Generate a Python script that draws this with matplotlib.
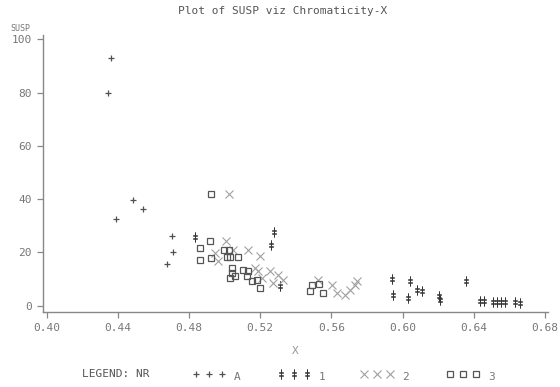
import numpy as np
import matplotlib
matplotlib.use("Agg")
import matplotlib.pyplot as plt
from matplotlib.lines import Line2D

# SUSP viz chromaticity-X
xA = [0.4363, 0.4347, 0.4484, 0.4544, 0.4391, 0.4703, 0.4713, 0.4675]
yA = [93.1, 79.7, 39.7, 36.3, 32.5, 26.2, 20.2, 15.6]

x1 = [0.4834, 0.5280, 0.5262, 0.5312, 0.5940, 0.5949, 0.6043, 0.6033, 0.6080,
      0.6108, 0.6202, 0.6211, 0.6357, 0.6437, 0.6455, 0.6510, 0.6532, 0.6555,
      0.6577, 0.6632, 0.6660]
y1 = [25.6, 27.6, 22.8, 7.2, 10.0, 4.1, 9.1, 2.9, 6.0,
      5.4, 3.7, 2.2, 9.4, 1.6, 1.8, 1.2, 1.2, 1.2,
      1.2, 1.2, 1.1]

x2 = [0.5027, 0.5007, 0.4947, 0.4962, 0.5050, 0.5134, 0.5200, 0.5171, 0.5190,
      0.5209, 0.5256, 0.5300, 0.5329, 0.5273, 0.5527, 0.5602, 0.5630, 0.5677,
      0.5705, 0.5733, 0.5743]
y2 = [41.8, 24.3, 19.8, 16.6, 21.0, 21.0, 18.5, 14.1, 12.9,
      10.4, 12.9, 11.6, 9.7, 8.6, 9.7, 7.9, 4.8, 4.1,
      6.0, 7.9, 9.1]

x3 = [0.4923, 0.4919, 0.4862, 0.4862, 0.4924, 0.4999, 0.5026, 0.5013, 0.5031,
      0.5074, 0.5040, 0.5040, 0.5031, 0.5060, 0.5106, 0.5134, 0.5125, 0.5153,
      0.5181, 0.5200, 0.5490, 0.5480, 0.5531, 0.5555]
y3 = [41.8, 24.1, 21.6, 17.0, 17.9, 21.0, 21.0, 18.1, 18.1,
      18.4, 14.1, 12.2, 10.4, 11.0, 13.5, 12.9, 11.0, 9.1,
      9.7, 6.6, 7.9, 5.6, 8.1, 4.8]

xticks = [0.40, 0.44, 0.48, 0.52, 0.56, 0.60, 0.64, 0.68]
yticks = [0, 20, 40, 60, 80, 100]
nr_labels = ["A", "1", "2", "3"]

mono = "DejaVu Sans Mono"
grey = "#777777"

# estilos de cada grupo NR
styles = [
    dict(marker="+", ms=5, mew=0.9, color="#505050"),
    dict(marker=r"$\ddagger$", ms=6.5, mew=0.4, color="#353535"),
    dict(marker="x", ms=5.5, mew=0.8, color="#a0a0a0"),
    dict(marker="s", ms=4.5, mew=0.9, color="#555555", mfc="none"),
]

fig = plt.figure(figsize=(5.6, 3.87), dpi=100)
ax = fig.add_axes([0.0763, 0.193, 0.9023, 0.7165])

for xs, ys, st in zip([xA, x1, x2, x3], [yA, y1, y2, y3], styles):
    ax.plot(xs, ys, ls="none", **st)

ax.set_xlim(0.39787, 0.6817)
ax.set_ylim(-2.5, 101.6)
ax.set_xticks(xticks)
ax.set_xticklabels(["%.2f" % v for v in xticks])
ax.set_yticks(yticks)
ax.set_yticklabels([str(v) for v in yticks])

for s in ["top", "right"]:
    ax.spines[s].set_visible(False)
for s in ["left", "bottom"]:
    ax.spines[s].set_color("#888888")
    ax.spines[s].set_linewidth(1.0)

ax.tick_params(direction="out", length=4, width=0.9, color="#888888",
               labelcolor=grey, labelsize=8, pad=4)
for lab in ax.get_xticklabels() + ax.get_yticklabels():
    lab.set_family(mono)

fig.text(0.505, 1 - 10.5 / 387, "Plot of SUSP viz Chromaticity-X", family=mono,
         fontsize=8, color="#555555", ha="center", va="center")
fig.text(10 / 560, 1 - 28.5 / 387, "SUSP", family=mono, fontsize=6,
         color=grey, ha="left", va="center")
fig.text(295 / 560, 1 - 351 / 387, "X", family=mono, fontsize=8,
         color="#999999", ha="center", va="center")

# leyenda en linea, como en el original
ly = 1 - 374 / 387
fig.text(82 / 560, ly, "LEGEND: NR", family=mono, fontsize=8, color="#555555",
         ha="left", va="center")
item_x = [196, 281, 364, 450]
for x0, st, lab in zip(item_x, styles, nr_labels):
    for k in range(3):
        fig.add_artist(Line2D([(x0 + 13 * k) / 560], [ly], ls="none",
                              transform=fig.transFigure, **st))
    fig.text((x0 + 38) / 560, ly - 3 / 387, lab, family=mono, fontsize=8,
             color=grey, ha="left", va="center")

fig.savefig("out.png", dpi=100)
